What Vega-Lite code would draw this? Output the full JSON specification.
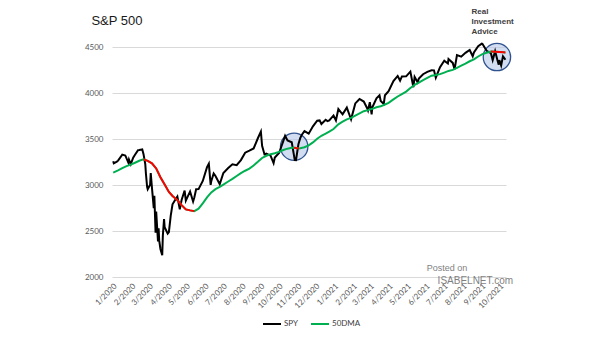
{
  "$schema": "https://vega.github.io/schema/vega-lite/v6.json",
  "width": 394,
  "height": 230,
  "autosize": "none",
  "padding": {"left": 112, "top": 47, "right": 99, "bottom": 64},
  "background": "white",
  "title": {"text": "S&P 500", "anchor": "start", "dx": 7, "offset": -20, "fontSize": 13, "font": "Liberation Sans", "fontWeight": "normal", "color": "#1a1a1a"},
  "datasets": {
    "spy": [
      {"date":"2020-01-02","value":3258},{"date":"2020-01-03","value":3235},{"date":"2020-01-08","value":3253},{"date":"2020-01-10","value":3265},{"date":"2020-01-17","value":3330},{"date":"2020-01-22","value":3321},{"date":"2020-01-27","value":3244},{"date":"2020-01-28","value":3276},{"date":"2020-01-31","value":3226},{"date":"2020-02-04","value":3298},{"date":"2020-02-07","value":3328},{"date":"2020-02-12","value":3379},{"date":"2020-02-14","value":3380},{"date":"2020-02-19","value":3386},{"date":"2020-02-21","value":3338},{"date":"2020-02-24","value":3226},{"date":"2020-02-25","value":3128},{"date":"2020-02-27","value":2979},{"date":"2020-02-28","value":2954},{"date":"2020-03-03","value":3003},{"date":"2020-03-04","value":3130},{"date":"2020-03-06","value":2972},{"date":"2020-03-09","value":2747},{"date":"2020-03-10","value":2882},{"date":"2020-03-12","value":2481},{"date":"2020-03-13","value":2711},{"date":"2020-03-16","value":2386},{"date":"2020-03-17","value":2529},{"date":"2020-03-18","value":2398},{"date":"2020-03-20","value":2305},{"date":"2020-03-23","value":2237},{"date":"2020-03-24","value":2447},{"date":"2020-03-26","value":2630},{"date":"2020-03-27","value":2541},{"date":"2020-04-01","value":2471},{"date":"2020-04-03","value":2489},{"date":"2020-04-06","value":2664},{"date":"2020-04-09","value":2790},{"date":"2020-04-14","value":2846},{"date":"2020-04-17","value":2875},{"date":"2020-04-21","value":2737},{"date":"2020-04-24","value":2837},{"date":"2020-04-29","value":2940},{"date":"2020-05-01","value":2831},{"date":"2020-05-08","value":2930},{"date":"2020-05-13","value":2820},{"date":"2020-05-15","value":2864},{"date":"2020-05-18","value":2954},{"date":"2020-05-22","value":2955},{"date":"2020-05-29","value":3044},{"date":"2020-06-05","value":3194},{"date":"2020-06-08","value":3232},{"date":"2020-06-11","value":3002},{"date":"2020-06-12","value":3041},{"date":"2020-06-16","value":3125},{"date":"2020-06-19","value":3098},{"date":"2020-06-26","value":3009},{"date":"2020-07-02","value":3130},{"date":"2020-07-10","value":3185},{"date":"2020-07-17","value":3225},{"date":"2020-07-24","value":3216},{"date":"2020-07-31","value":3271},{"date":"2020-08-07","value":3351},{"date":"2020-08-14","value":3373},{"date":"2020-08-21","value":3397},{"date":"2020-08-28","value":3508},{"date":"2020-09-02","value":3581},{"date":"2020-09-04","value":3427},{"date":"2020-09-08","value":3332},{"date":"2020-09-11","value":3341},{"date":"2020-09-18","value":3319},{"date":"2020-09-23","value":3237},{"date":"2020-09-25","value":3298},{"date":"2020-10-02","value":3348},{"date":"2020-10-09","value":3477},{"date":"2020-10-12","value":3534},{"date":"2020-10-16","value":3484},{"date":"2020-10-23","value":3465},{"date":"2020-10-28","value":3271},{"date":"2020-10-30","value":3270},{"date":"2020-11-03","value":3443},{"date":"2020-11-06","value":3509},{"date":"2020-11-09","value":3550},{"date":"2020-11-13","value":3585},{"date":"2020-11-20","value":3558},{"date":"2020-11-27","value":3638},{"date":"2020-12-04","value":3699},{"date":"2020-12-08","value":3702},{"date":"2020-12-11","value":3663},{"date":"2020-12-18","value":3709},{"date":"2020-12-21","value":3694},{"date":"2020-12-24","value":3703},{"date":"2020-12-31","value":3756},
      {"date":"2021-01-04","value":3701},{"date":"2021-01-08","value":3825},{"date":"2021-01-15","value":3768},{"date":"2021-01-22","value":3841},{"date":"2021-01-27","value":3750},{"date":"2021-01-29","value":3714},{"date":"2021-02-05","value":3887},{"date":"2021-02-12","value":3935},{"date":"2021-02-19","value":3907},{"date":"2021-02-25","value":3829},{"date":"2021-02-26","value":3811},{"date":"2021-03-01","value":3901},{"date":"2021-03-04","value":3768},{"date":"2021-03-05","value":3842},{"date":"2021-03-12","value":3943},{"date":"2021-03-17","value":3975},{"date":"2021-03-19","value":3913},{"date":"2021-03-24","value":3881},{"date":"2021-03-26","value":3975},{"date":"2021-04-01","value":4020},{"date":"2021-04-09","value":4129},{"date":"2021-04-16","value":4185},{"date":"2021-04-20","value":4135},{"date":"2021-04-23","value":4180},{"date":"2021-04-30","value":4181},{"date":"2021-05-07","value":4233},{"date":"2021-05-12","value":4063},{"date":"2021-05-14","value":4174},{"date":"2021-05-19","value":4116},{"date":"2021-05-21","value":4156},{"date":"2021-05-28","value":4204},{"date":"2021-06-04","value":4230},{"date":"2021-06-11","value":4247},{"date":"2021-06-15","value":4246},{"date":"2021-06-18","value":4166},{"date":"2021-06-25","value":4281},{"date":"2021-07-02","value":4352},{"date":"2021-07-08","value":4321},{"date":"2021-07-09","value":4370},{"date":"2021-07-16","value":4327},{"date":"2021-07-19","value":4258},{"date":"2021-07-23","value":4412},{"date":"2021-07-30","value":4395},{"date":"2021-08-06","value":4437},{"date":"2021-08-13","value":4468},{"date":"2021-08-18","value":4400},{"date":"2021-08-20","value":4442},{"date":"2021-08-27","value":4509},{"date":"2021-09-02","value":4537},{"date":"2021-09-03","value":4535},{"date":"2021-09-10","value":4459},{"date":"2021-09-17","value":4433},{"date":"2021-09-20","value":4358},{"date":"2021-09-24","value":4455},{"date":"2021-09-28","value":4353},{"date":"2021-09-30","value":4308},{"date":"2021-10-01","value":4357},{"date":"2021-10-04","value":4300},{"date":"2021-10-07","value":4399},{"date":"2021-10-08","value":4391},{"date":"2021-10-11","value":4361}
    ],
    "ma": [
      {"date":"2020-01-02","value":3135},{"date":"2020-01-10","value":3158},{"date":"2020-01-17","value":3183},{"date":"2020-01-24","value":3205},{"date":"2020-01-31","value":3222},{"date":"2020-02-07","value":3242},{"date":"2020-02-14","value":3263},{"date":"2020-02-21","value":3278},{"date":"2020-02-28","value":3262},{"date":"2020-03-06","value":3236},{"date":"2020-03-13","value":3180},{"date":"2020-03-20","value":3084},{"date":"2020-03-27","value":3005},{"date":"2020-04-03","value":2924},{"date":"2020-04-09","value":2881},{"date":"2020-04-17","value":2836},{"date":"2020-04-24","value":2781},{"date":"2020-05-01","value":2735},{"date":"2020-05-08","value":2724},{"date":"2020-05-15","value":2716},{"date":"2020-05-22","value":2742},{"date":"2020-05-29","value":2800},{"date":"2020-06-05","value":2865},{"date":"2020-06-12","value":2920},{"date":"2020-06-19","value":2955},{"date":"2020-06-26","value":2980},{"date":"2020-07-02","value":3005},{"date":"2020-07-10","value":3038},{"date":"2020-07-17","value":3066},{"date":"2020-07-24","value":3098},{"date":"2020-07-31","value":3128},{"date":"2020-08-07","value":3155},{"date":"2020-08-14","value":3178},{"date":"2020-08-21","value":3212},{"date":"2020-08-28","value":3252},{"date":"2020-09-04","value":3294},{"date":"2020-09-11","value":3318},{"date":"2020-09-18","value":3335},{"date":"2020-09-25","value":3345},{"date":"2020-10-02","value":3360},{"date":"2020-10-09","value":3380},{"date":"2020-10-16","value":3395},{"date":"2020-10-23","value":3404},{"date":"2020-10-27","value":3406},{"date":"2020-10-30","value":3402},{"date":"2020-11-04","value":3398},{"date":"2020-11-06","value":3399},{"date":"2020-11-13","value":3410},{"date":"2020-11-20","value":3431},{"date":"2020-11-27","value":3463},{"date":"2020-12-04","value":3503},{"date":"2020-12-11","value":3535},{"date":"2020-12-18","value":3558},{"date":"2020-12-24","value":3580},{"date":"2020-12-31","value":3609},
      {"date":"2021-01-08","value":3660},{"date":"2021-01-15","value":3688},{"date":"2021-01-22","value":3714},{"date":"2021-01-29","value":3730},{"date":"2021-02-05","value":3755},{"date":"2021-02-12","value":3778},{"date":"2021-02-19","value":3802},{"date":"2021-02-26","value":3814},{"date":"2021-03-05","value":3828},{"date":"2021-03-12","value":3845},{"date":"2021-03-19","value":3855},{"date":"2021-03-26","value":3875},{"date":"2021-04-01","value":3893},{"date":"2021-04-09","value":3930},{"date":"2021-04-16","value":3962},{"date":"2021-04-23","value":3988},{"date":"2021-04-30","value":4015},{"date":"2021-05-07","value":4055},{"date":"2021-05-14","value":4088},{"date":"2021-05-21","value":4112},{"date":"2021-05-28","value":4140},{"date":"2021-06-04","value":4165},{"date":"2021-06-11","value":4188},{"date":"2021-06-18","value":4195},{"date":"2021-06-25","value":4205},{"date":"2021-07-02","value":4222},{"date":"2021-07-09","value":4240},{"date":"2021-07-16","value":4251},{"date":"2021-07-23","value":4274},{"date":"2021-07-30","value":4297},{"date":"2021-08-06","value":4320},{"date":"2021-08-13","value":4345},{"date":"2021-08-20","value":4365},{"date":"2021-08-27","value":4397},{"date":"2021-09-03","value":4423},{"date":"2021-09-10","value":4437},{"date":"2021-09-17","value":4450},{"date":"2021-09-24","value":4448},{"date":"2021-10-01","value":4445},{"date":"2021-10-08","value":4442},{"date":"2021-10-11","value":4441}
    ],
    "ma_down": [
      {"segment":1,"date":"2020-02-21","value":3278},{"segment":1,"date":"2020-02-28","value":3262},{"segment":1,"date":"2020-03-06","value":3236},{"segment":1,"date":"2020-03-13","value":3180},{"segment":1,"date":"2020-03-20","value":3084},{"segment":1,"date":"2020-03-27","value":3005},{"segment":1,"date":"2020-04-03","value":2924},{"segment":1,"date":"2020-04-09","value":2881},{"segment":1,"date":"2020-04-17","value":2836},{"segment":1,"date":"2020-04-24","value":2781},{"segment":1,"date":"2020-05-01","value":2735},{"segment":1,"date":"2020-05-08","value":2724},{"segment":1,"date":"2020-05-15","value":2716},
      {"segment":2,"date":"2020-10-27","value":3406},{"segment":2,"date":"2020-10-30","value":3402},{"segment":2,"date":"2020-11-04","value":3398},
      {"segment":3,"date":"2021-09-17","value":4450},{"segment":3,"date":"2021-09-24","value":4448},{"segment":3,"date":"2021-10-01","value":4445},{"segment":3,"date":"2021-10-08","value":4442},{"segment":3,"date":"2021-10-11","value":4441}
    ],
    "circles": [
      {"date":"2020-10-27","value":3416},
      {"date":"2021-09-27","value":4391}
    ],
    "logo": [
      {"date":"2021-08-16","value":4880,"label":"Real"},
      {"date":"2021-08-16","value":4772,"label":"Investment"},
      {"date":"2021-08-16","value":4663,"label":"Advice"}
    ],
    "posted": [
      {"date":"2021-06-03","value":2098,"label":"Posted on"}
    ],
    "site": [
      {"date":"2021-06-21","value":1957,"label":"ISABELNET.com"}
    ]
  },
  "encoding": {
    "x": {
      "field": "date", "type": "temporal",
      "scale": {"type": "utc", "domain": [{"year":2019,"month":12,"date":31,"utc":true},{"year":2021,"month":10,"date":12,"utc":true}]},
      "axis": {"title": null, "format": "%-m/%Y", "labelAngle": -45, "tickCount": {"interval": "month", "step": 1}, "grid": false, "domain": false, "ticks": false, "labelPadding": 5, "labelOverlap": false, "labelBound": false, "labelFlush": false}
    },
    "y": {
      "field": "value", "type": "quantitative",
      "scale": {"domain": [2000, 4500], "zero": false, "nice": false},
      "axis": {"title": null, "values": [2000, 2500, 3000, 3500, 4000, 4500], "format": "d", "grid": true, "gridColor": "#d9d9d9", "domain": false, "ticks": false, "labelPadding": 9}
    }
  },
  "layer": [
    {
      "data": {"name": "circles"},
      "mark": {"type": "point", "shape": "circle", "filled": true, "size": 750, "fill": "#b4c7e7", "fillOpacity": 0.6, "stroke": "#2f528f", "strokeWidth": 1.3, "opacity": 1}
    },
    {
      "data": {"name": "spy"},
      "mark": {"type": "line", "strokeWidth": 2},
      "encoding": {
        "color": {
          "datum": "SPY",
          "scale": {"domain": ["SPY", "50DMA"], "range": ["#000000", "#00b050"]},
          "legend": {"title": null, "orient": "none", "legendX": 150, "legendY": 267, "direction": "horizontal", "symbolType": "stroke", "symbolSize": 324, "symbolStrokeWidth": 2, "labelOffset": 2, "columnPadding": 8}
        }
      }
    },
    {
      "data": {"name": "ma"},
      "mark": {"type": "line", "strokeWidth": 2},
      "encoding": {"color": {"datum": "50DMA"}}
    },
    {
      "data": {"name": "ma_down"},
      "mark": {"type": "line", "strokeWidth": 2, "color": "#ff0000"},
      "encoding": {"detail": {"field": "segment", "type": "nominal"}}
    },
    {
      "data": {"name": "logo"},
      "mark": {"type": "text", "align": "left", "baseline": "middle", "font": "Liberation Sans", "fontWeight": "bold", "fontSize": 8, "color": "#404040"},
      "encoding": {"text": {"field": "label"}}
    },
    {
      "data": {"name": "posted"},
      "mark": {"type": "text", "align": "left", "baseline": "middle", "font": "Liberation Sans", "fontSize": 9, "color": "#7f7f7f"},
      "encoding": {"text": {"field": "label"}}
    },
    {
      "data": {"name": "site"},
      "mark": {"type": "text", "align": "left", "baseline": "middle", "font": "Liberation Sans", "fontSize": 10, "color": "#7f7f7f"},
      "encoding": {"text": {"field": "label"}}
    }
  ],
  "config": {
    "view": {"stroke": null},
    "axis": {"labelFont": "Lato", "labelFontSize": 8, "labelColor": "#595959"},
    "legend": {"labelFont": "Lato", "labelFontSize": 8, "labelColor": "#404040"}
  }
}
